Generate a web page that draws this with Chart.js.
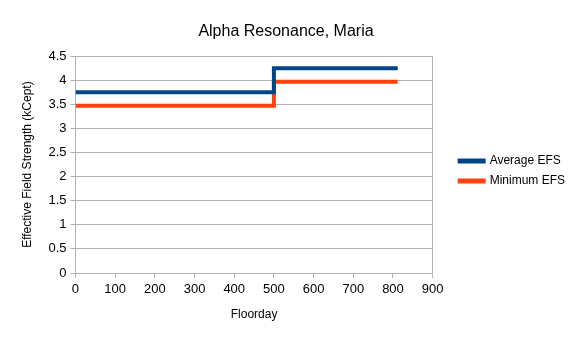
<!DOCTYPE html>
<html>
<head>
<meta charset="utf-8">
<script src="https://cdn.jsdelivr.net/npm/chart.js@4/dist/chart.umd.min.js"></script>
<style>
    html, body { margin: 0; padding: 0; background: #fff; }
    #wrap { width: 582px; height: 340px; }
</style>
</head>
<body>
<div id="wrap"><canvas id="efsChart"></canvas></div>
<script>
// step points (floorday, kCept)
var seriesNames = ["Average EFS", "Minimum EFS"];
var avgDays = [0, 500, 500, 812];
var avgValues = [3.75, 3.75, 4.25, 4.25];
var minDays = [0, 500, 500, 812];
var minValues = [3.47, 3.47, 3.97, 3.97];
var xTicks = [0, 100, 200, 300, 400, 500, 600, 700, 800, 900];
var yTicks = [0, 0.5, 1, 1.5, 2, 2.5, 3, 3.5, 4, 4.5];

function toPoints(xs, ys) {
    return xs.map((x, i) => ({ x: x, y: ys[i] }));
}

// push the legend away from the plot, into the right padding
var legendShift = {
    id: "legendShift",
    afterLayout: function (chart) {
        chart.legend.left += 19;
        chart.legend.right += 19;
        chart.legend.top += 4;
        chart.legend.bottom += 4;
    }
};

document.addEventListener("DOMContentLoaded", function () {
    Chart.defaults.font.family = "'Liberation Sans', Arial, sans-serif";
    Chart.defaults.color = "#000";

    var ctx = document.getElementById("efsChart").getContext("2d");
    new Chart(ctx, {
        type: "scatter",
        data: {
            datasets: [
                {
                    label: seriesNames[0],
                    data: toPoints(avgDays, avgValues),
                    showLine: true,
                    borderColor: "#004586",
                    backgroundColor: "#004586",
                    borderWidth: 4,
                    pointRadius: 0
                },
                {
                    label: seriesNames[1],
                    data: toPoints(minDays, minValues),
                    showLine: true,
                    borderColor: "#ff420e",
                    backgroundColor: "#ff420e",
                    borderWidth: 4,
                    pointRadius: 0
                }
            ]
        },
        options: {
            responsive: true,
            maintainAspectRatio: false,
            animation: false,
            layout: { padding: { left: 16, right: 26, top: 8, bottom: 14 } },
            plugins: {
                title: {
                    display: true,
                    text: "Alpha Resonance, Maria",
                    font: { size: 16, weight: "normal" },
                    color: "#000",
                    padding: { top: 14, bottom: 15 }
                },
                legend: {
                    position: "right",
                    labels: {
                        boxWidth: 24,
                        boxHeight: 1,
                        font: { size: 12 },
                        color: "#000",
                        padding: 8
                    }
                },
                tooltip: { enabled: false }
            },
            scales: {
                x: {
                    type: "linear",
                    min: 0,
                    max: 900,
                    afterBuildTicks: axis => { axis.ticks = xTicks.map(v => ({ value: v })); },
                    ticks: { font: { size: 13 }, color: "#000", padding: 4 },
                    grid: {
                        color: c => c.tick && c.tick.value === 900 ? "#b3b3b3" : "rgba(0,0,0,0)",
                        tickColor: "#b3b3b3",
                        tickLength: 5
                    },
                    border: { color: "#b3b3b3" },
                    title: {
                        display: true,
                        text: "Floorday",
                        font: { size: 12 },
                        color: "#000",
                        padding: { top: 6 }
                    }
                },
                y: {
                    min: 0,
                    max: 4.5,
                    afterBuildTicks: axis => { axis.ticks = yTicks.map(v => ({ value: v })); },
                    ticks: {
                        font: { size: 13 },
                        color: "#000",
                        padding: 4,
                        callback: v => String(v)
                    },
                    grid: { color: "#b3b3b3", tickColor: "#b3b3b3", tickLength: 5 },
                    border: { color: "#b3b3b3" },
                    title: {
                        display: true,
                        text: "Effective Field Strength (kCept)",
                        font: { size: 12 },
                        color: "#000",
                        padding: { bottom: 10 }
                    }
                }
            }
        },
        plugins: [legendShift]
    });
});
</script>
</body>
</html>
